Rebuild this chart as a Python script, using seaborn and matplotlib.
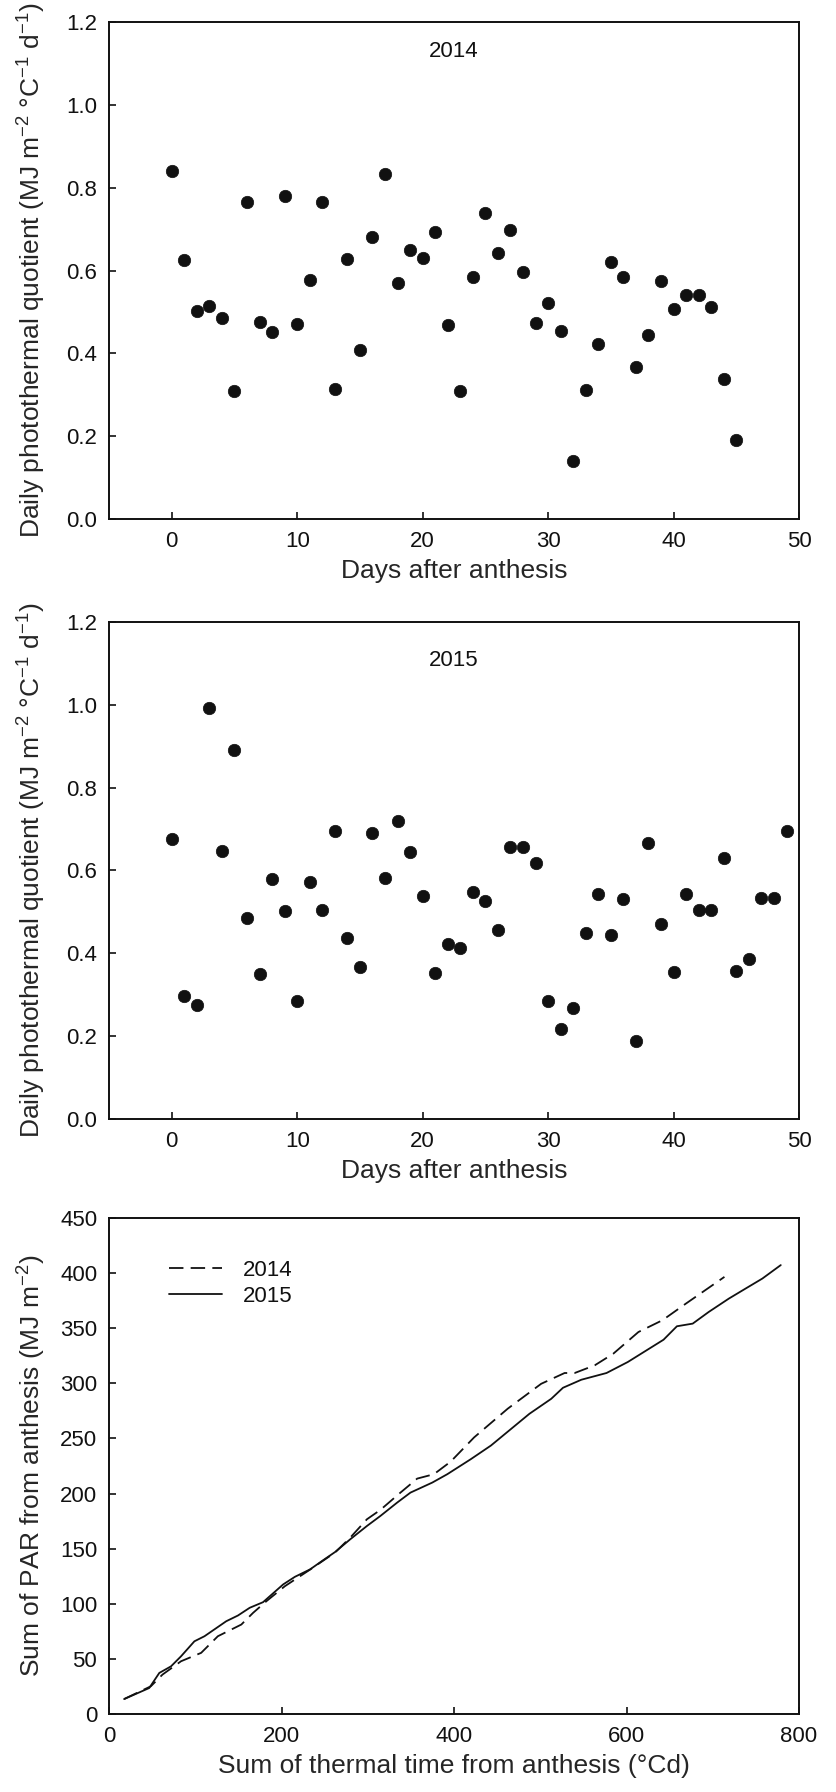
'''
Daily photothermal quotient (2014, 2015) and cumulative PAR vs thermal time
'''
import numpy as np
import pandas as pd
import matplotlib
matplotlib.use('Agg')
import matplotlib.pyplot as plt
import seaborn as sns

# Daily photothermal quotient, one value per day after anthesis
days_2014 = np.arange(46)
ptq_2014 = [0.841, 0.625, 0.502, 0.515, 0.485, 0.310, 0.765, 0.475, 0.451, 0.781,
            0.471, 0.576, 0.765, 0.314, 0.628, 0.409, 0.682, 0.834, 0.571, 0.650,
            0.629, 0.693, 0.469, 0.310, 0.584, 0.738, 0.643, 0.697, 0.596, 0.473,
            0.522, 0.453, 0.140, 0.312, 0.423, 0.621, 0.585, 0.368, 0.444, 0.574,
            0.506, 0.540, 0.540, 0.513, 0.339, 0.191]

days_2015 = np.arange(50)
ptq_2015 = [0.677, 0.297, 0.274, 0.992, 0.646, 0.892, 0.484, 0.350, 0.579, 0.503,
            0.285, 0.571, 0.504, 0.695, 0.438, 0.367, 0.691, 0.581, 0.719, 0.644,
            0.539, 0.352, 0.423, 0.413, 0.548, 0.527, 0.457, 0.657, 0.657, 0.617,
            0.285, 0.218, 0.269, 0.448, 0.542, 0.443, 0.530, 0.189, 0.666, 0.471,
            0.356, 0.544, 0.505, 0.505, 0.630, 0.358, 0.385, 0.534, 0.534, 0.696]

# Cumulative PAR vs cumulative thermal time
tt_2014 = [17.5, 48.5, 62, 83.5, 106.8, 126.2, 153.4, 167, 182.5, 203.9, 233, 262,
           279.6, 299, 314.6, 337.9, 357.3, 376.7, 396.1, 423.3, 462.2, 501, 528.2,
           539.9, 563.2, 584.6, 613.8, 641.7, 668.9, 713.5]
par_2014 = [13.6, 25.2, 35.8, 47.9, 55.5, 70.6, 81.2, 91.8, 102.4, 116, 131, 146.5,
            160, 176.7, 185.2, 200.9, 213.6, 217.6, 229, 251, 277, 299.6, 309.4,
            309.4, 316.4, 326.9, 346.6, 357.3, 372.4, 396.6]

tt_2015 = [17.5, 46.6, 58.3, 71.9, 83.5, 99, 110.7, 135.9, 149.5, 163.1, 178.6, 201.9,
           215.5, 233, 248.5, 262.1, 279.6, 299, 314.6, 334, 349.5, 374.8, 392.2,
           419.4, 442.8, 487.4, 512.7, 526.3, 547.6, 576.8, 601.5, 642.9, 658.4,
           676.7, 695.3, 718.6, 738, 757.5, 778.8]
par_2015 = [13.6, 23.6, 37.3, 43.3, 52.4, 66, 70.6, 84.2, 89.4, 96.4, 101.5, 117.6,
            124.5, 131.2, 139.7, 147, 158.5, 170.6, 179.7, 191.8, 200.9, 210, 217.6,
            231.2, 243.6, 272.4, 286, 296, 303.3, 309.4, 319.4, 339.6, 351.8,
            354.2, 364.8, 376.9, 386, 395.1, 407.3]

sns.set_style('ticks')
plt.rcParams['font.family'] = ['Liberation Sans', 'DejaVu Sans']
plt.rcParams['mathtext.default'] = 'regular'
plt.rcParams['axes.linewidth'] = 1.4
plt.rcParams['axes.edgecolor'] = '#111111'
plt.rcParams['text.color'] = '#111111'

tick_fs = 16
label_fs = 19

fig = plt.figure(figsize=(8.36, 17.92), dpi=100)
ax1 = fig.add_axes([0.1304, 0.7104, 0.8254, 0.2773])
ax2 = fig.add_axes([0.1304, 0.3756, 0.8254, 0.2773])
ax3 = fig.add_axes([0.1304, 0.0435, 0.8254, 0.2768])


def style_axis(ax):
    ax.tick_params(direction='in', length=5, width=1.2, pad=8.5,
                   labelsize=tick_fs, colors='#111111',
                   top=False, right=False)
    for sp in ax.spines.values():
        sp.set_visible(True)
        sp.set_color('#111111')
    ax.yaxis.set_label_coords(-0.088, 0.5)


ptq_label = 'Daily photothermal quotient (MJ m$^{-2}$ °C$^{-1}$ d$^{-1}$)'

# Scatter panels
for ax, days, ptq, year, ty in [(ax1, days_2014, ptq_2014, '2014', 0.94),
                                (ax2, days_2015, ptq_2015, '2015', 0.922)]:
    sns.scatterplot(x=days, y=ptq, ax=ax, color='#111111', s=80,
                    edgecolor='#111111', linewidth=0.5)
    ax.set_xlim(-5, 50)
    ax.set_ylim(0, 1.2)
    ax.set_xticks([0, 10, 20, 30, 40, 50])
    ax.set_yticks([0.0, 0.2, 0.4, 0.6, 0.8, 1.0, 1.2])
    ax.set_xlabel('Days after anthesis', fontsize=label_fs, labelpad=5)
    ax.set_ylabel(ptq_label, fontsize=label_fs)
    ax.text(0.5, ty, year, transform=ax.transAxes, ha='center', va='center',
            fontsize=tick_fs)
    style_axis(ax)

# Cumulative PAR panel
df = pd.concat([
    pd.DataFrame({'tt': tt_2014, 'par': par_2014, 'year': '2014'}),
    pd.DataFrame({'tt': tt_2015, 'par': par_2015, 'year': '2015'}),
])
sns.lineplot(data=df, x='tt', y='par', style='year', ax=ax3, color='#111111',
             estimator=None, linewidth=1.3,
             dashes={'2014': (8, 4), '2015': ''})
ax3.set_xlim(0, 800)
ax3.set_ylim(0, 450)
ax3.set_xticks([0, 200, 400, 600, 800])
ax3.set_yticks(np.arange(0, 451, 50))
ax3.set_xlabel('Sum of thermal time from anthesis (°Cd)', fontsize=label_fs, labelpad=5)
ax3.set_ylabel('Sum of PAR from anthesis (MJ m$^{-2}$)', fontsize=label_fs)
handles, labels = ax3.get_legend_handles_labels()
ax3.legend(handles, labels, loc='upper left', bbox_to_anchor=(0.087, 0.915),
           frameon=False, fontsize=tick_fs, handlelength=2.4, handletextpad=0.9,
           labelspacing=0.2, borderpad=0, borderaxespad=0)
style_axis(ax3)

fig.savefig('out.png', dpi=100)
